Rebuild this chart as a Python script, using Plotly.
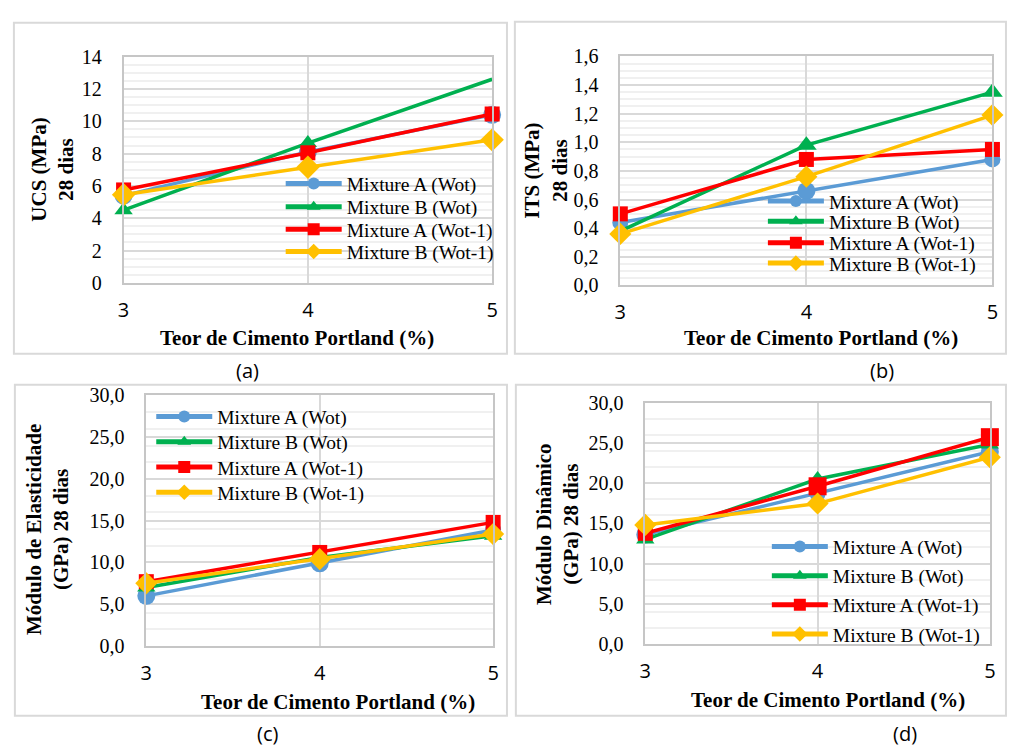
import plotly.graph_objects as go

W, H = 1009, 756

cement = [3, 4, 5]
x_ticks = ["3", "4", "5"]
series_names = ["Mixture A (Wot)", "Mixture B (Wot)", "Mixture A (Wot-1)", "Mixture B (Wot-1)"]

ucs_A_wot = [5.4, 8.1, 10.4]
ucs_B_wot = [4.5, 8.65, 12.6]
ucs_A_wot1 = [5.75, 8.05, 10.45]
ucs_B_wot1 = [5.45, 7.15, 8.85]

its_A_wot = [0.44, 0.66, 0.88]
its_B_wot = [0.38, 0.98, 1.35]
its_A_wot1 = [0.50, 0.88, 0.95]
its_B_wot1 = [0.36, 0.76, 1.19]

el_A_wot = [6.0, 9.9, 13.9]
el_B_wot = [7.0, 10.6, 13.2]
el_A_wot1 = [7.7, 11.2, 14.8]
el_B_wot1 = [7.5, 10.4, 13.4]

din_A_wot = [13.6, 18.7, 23.9]
din_B_wot = [13.0, 20.5, 24.8]
din_A_wot1 = [13.75, 19.6, 25.7]
din_B_wot1 = [14.8, 17.45, 23.2]

colors = ["#5B9BD5", "#00B050", "#FF0000", "#FFC000"]
symbols = ["circle", "triangle-up", "square", "diamond"]

SERIF = "Liberation Serif"
SANS = "Open Sans"

panels = [
    dict(data=[ucs_A_wot, ucs_B_wot, ucs_A_wot1, ucs_B_wot1],
         xd=[119, 492], yd=[47, 280], yrange=[0, 14], dtick=2, minor=0.5, fmt=None,
         msize=[[18, 18, 18], [16, 16, 0], [15, 15, 15], [18, 18, 18]],
         ytitle="UCS (MPa)<br>28 dias", ytx=47, yty=163, xtx=294, xty=337,
         legx=283, legy=[178, 202, 225, 248], label="(a)", lx=244, ly=370),
    dict(data=[its_A_wot, its_B_wot, its_A_wot1, its_B_wot1],
         xd=[621.7, 998.3], yd=[46.7, 282.7], yrange=[0, 1.6], dtick=0.2, minor=0.05, fmt=",.1f",
         msize=[[16, 18, 16], [16, 18, 18], [15, 15, 15], [17, 17, 17]],
         ytitle="ITS (MPa)<br>28 dias", ytx=546, yty=165, xtx=825, xty=337,
         legx=771, legy=[196, 217, 239, 260], label="(b)", lx=887, ly=370),
    dict(data=[el_A_wot, el_B_wot, el_A_wot1, el_B_wot1],
         xd=[142, 493], yd=[396, 654], yrange=[0, 30], dtick=5, minor=2, fmt=",.1f",
         msize=[[18, 18, 16], [16, 16, 16], [15, 15, 15], [17, 17, 17]],
         ytitle="Módulo de Elasticidade<br>(GPa) 28 dias", ytx=42, yty=534, xtx=336, xty=712,
         legx=152, legy=[418, 444, 470, 496], label="(c)", lx=265, ly=744),
    dict(data=[din_A_wot, din_B_wot, din_A_wot1, din_B_wot1],
         xd=[647, 995.7], yd=[403.3, 652], yrange=[0, 30], dtick=5, minor=2, fmt=",.1f",
         msize=[[18, 16, 18], [16, 16, 16], [15, 18, 18], [17, 17, 17]],
         ytitle="Módulo Dinâmico<br>(GPa) 28 dias", ytx=558, yty=528, xtx=832, xty=710,
         legx=775, legy=[552, 582, 612, 642], label="(d)", lx=910, ly=744),
]

fig = go.Figure()
annotations = []
shapes = []
layout = dict(
    width=W, height=H, margin=dict(l=0, r=0, t=0, b=0),
    paper_bgcolor="white", plot_bgcolor="white",
    separators=", ",
)

legn = 0
for i, p in enumerate(panels):
    k = "" if i == 0 else str(i + 1)
    for j in range(4):
        legn += 1
        legname = "legend" if legn == 1 else f"legend{legn}"
        fig.add_trace(go.Scatter(
            x=cement, y=p["data"][j], mode="lines+markers", name=series_names[j],
            line=dict(color=colors[j], width=3.5),
            marker=dict(symbol=symbols[j], size=p["msize"][j], color=colors[j],
                        opacity=1, line=dict(width=0)),
            xaxis="x" + k, yaxis="y" + k, legend=legname,
            cliponaxis=False, showlegend=True,
        ))
        layout[legname] = dict(
            x=(p["legx"] - 5) / W, y=1 - p["legy"][j] / H, xanchor="left", yanchor="middle",
            bgcolor="rgba(0,0,0,0)", borderwidth=0,
            font=dict(family=SERIF, size=19.5, color="black"),
            itemwidth=56, itemsizing="constant",
        )
    layout["xaxis" + k] = dict(
        domain=[p["xd"][0] / W, p["xd"][1] / W], anchor="y" + k,
        range=[3, 5], tickvals=cement, ticktext=x_ticks,
        showgrid=True, gridcolor="#d9d9d9", gridwidth=1.5,
        showline=True, linecolor="#c6c6c6", linewidth=1.5, mirror=True,
        ticks="outside", ticklen=8, tickcolor="rgba(0,0,0,0)",
        tickfont=dict(family=SANS, size=20, color="black"),
        zeroline=False, fixedrange=True,
    )
    ya = dict(
        domain=[1 - p["yd"][1] / H, 1 - p["yd"][0] / H], anchor="x" + k,
        range=p["yrange"], dtick=p["dtick"], tick0=0,
        showgrid=True, gridcolor="#d9d9d9", gridwidth=1.5,
        minor=dict(dtick=p["minor"], showgrid=True, gridcolor="#f0f0f0", gridwidth=1.5, tick0=0),
        showline=True, linecolor="#c6c6c6", linewidth=1.5, mirror=True,
        ticks="outside", ticklen=16, tickcolor="rgba(0,0,0,0)",
        tickfont=dict(family=SERIF, size=20, color="black"),
        zeroline=False, fixedrange=True,
    )
    if p["fmt"]:
        ya["tickformat"] = p["fmt"]
    layout["yaxis" + k] = ya
    annotations.append(dict(
        x=p["ytx"] / W, y=1 - p["yty"] / H, xref="paper", yref="paper",
        text="<b>" + p["ytitle"] + "</b>", textangle=-90, showarrow=False,
        font=dict(family=SERIF, size=21, color="black"), xanchor="center", yanchor="middle",
    ))
    annotations.append(dict(
        x=p["xtx"] / W, y=1 - p["xty"] / H, xref="paper", yref="paper",
        text="<b>Teor de Cimento Portland (%)</b>", showarrow=False,
        font=dict(family=SERIF, size=21, color="black"), xanchor="center", yanchor="middle",
    ))
    annotations.append(dict(
        x=p["lx"] / W, y=1 - p["ly"] / H, xref="paper", yref="paper",
        text=p["label"], showarrow=False,
        font=dict(family=SANS, size=20, color="black"), xanchor="center", yanchor="middle",
    ))

boxes = [(8, 12, 507, 353), (515, 11, 1012, 353), (9, 385, 507, 726), (516, 385, 1012, 726)]
for (x0, y0, x1, y1) in boxes:
    shapes.append(dict(type="rect", xref="paper", yref="paper",
                       x0=x0 / W, x1=x1 / W, y0=1 - y1 / H, y1=1 - y0 / H,
                       line=dict(color="#d9d9d9", width=2), fillcolor="rgba(0,0,0,0)", layer="below"))

layout["annotations"] = annotations
layout["shapes"] = shapes
fig.update_layout(**layout)
fig.write_html("out.html", config={"displayModeBar": False},
               post_script="document.body.style.margin='0';document.body.style.overflow='hidden';")
